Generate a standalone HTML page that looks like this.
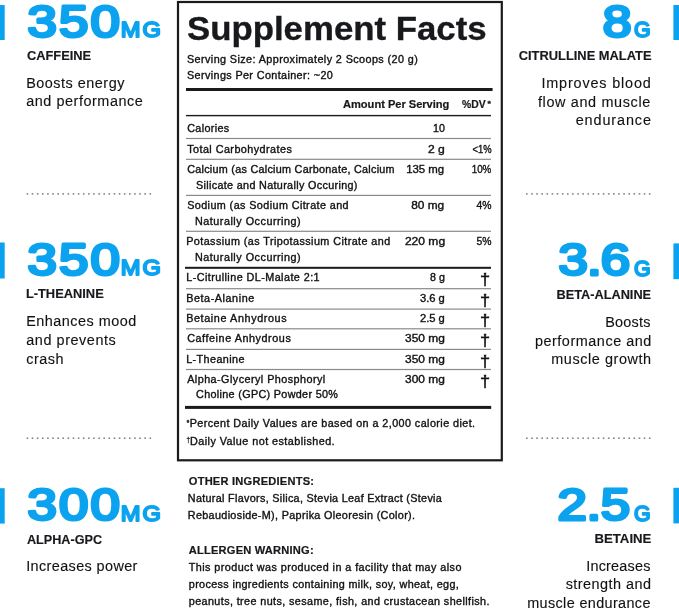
<!DOCTYPE html>
<html><head><meta charset="utf-8"><title>Supplement Facts</title>
<style>
html,body{margin:0;padding:0;background:#fff;}
body{width:679px;height:610px;overflow:hidden;}
svg{display:block;font-family:'Liberation Sans', Arial, sans-serif;}
</style></head><body>
<svg width="679" height="610" viewBox="0 0 679 610">
<rect x="0" y="5" width="4.7" height="35.0" fill="#0ba3ef"/>
<rect x="0" y="242.5" width="4.7" height="36.0" fill="#0ba3ef"/>
<rect x="0" y="488.2" width="4.7" height="35.4" fill="#0ba3ef"/>
<rect x="673.4" y="5" width="5.6" height="35.0" fill="#0ba3ef"/>
<rect x="673.4" y="243.4" width="5.6" height="35.8" fill="#0ba3ef"/>
<rect x="673.4" y="487.8" width="5.6" height="35.6" fill="#0ba3ef"/>
<rect x="26.60" y="193.10" width="1.6" height="1.6" fill="#858585"/>
<rect x="31.72" y="193.10" width="1.6" height="1.6" fill="#858585"/>
<rect x="36.84" y="193.10" width="1.6" height="1.6" fill="#858585"/>
<rect x="41.96" y="193.10" width="1.6" height="1.6" fill="#858585"/>
<rect x="47.08" y="193.10" width="1.6" height="1.6" fill="#858585"/>
<rect x="52.20" y="193.10" width="1.6" height="1.6" fill="#858585"/>
<rect x="57.32" y="193.10" width="1.6" height="1.6" fill="#858585"/>
<rect x="62.44" y="193.10" width="1.6" height="1.6" fill="#858585"/>
<rect x="67.56" y="193.10" width="1.6" height="1.6" fill="#858585"/>
<rect x="72.68" y="193.10" width="1.6" height="1.6" fill="#858585"/>
<rect x="77.80" y="193.10" width="1.6" height="1.6" fill="#858585"/>
<rect x="82.92" y="193.10" width="1.6" height="1.6" fill="#858585"/>
<rect x="88.04" y="193.10" width="1.6" height="1.6" fill="#858585"/>
<rect x="93.16" y="193.10" width="1.6" height="1.6" fill="#858585"/>
<rect x="98.28" y="193.10" width="1.6" height="1.6" fill="#858585"/>
<rect x="103.40" y="193.10" width="1.6" height="1.6" fill="#858585"/>
<rect x="108.52" y="193.10" width="1.6" height="1.6" fill="#858585"/>
<rect x="113.64" y="193.10" width="1.6" height="1.6" fill="#858585"/>
<rect x="118.76" y="193.10" width="1.6" height="1.6" fill="#858585"/>
<rect x="123.88" y="193.10" width="1.6" height="1.6" fill="#858585"/>
<rect x="129.00" y="193.10" width="1.6" height="1.6" fill="#858585"/>
<rect x="134.12" y="193.10" width="1.6" height="1.6" fill="#858585"/>
<rect x="139.24" y="193.10" width="1.6" height="1.6" fill="#858585"/>
<rect x="144.36" y="193.10" width="1.6" height="1.6" fill="#858585"/>
<rect x="149.48" y="193.10" width="1.6" height="1.6" fill="#858585"/>
<rect x="526.00" y="193.10" width="1.6" height="1.6" fill="#858585"/>
<rect x="531.12" y="193.10" width="1.6" height="1.6" fill="#858585"/>
<rect x="536.24" y="193.10" width="1.6" height="1.6" fill="#858585"/>
<rect x="541.36" y="193.10" width="1.6" height="1.6" fill="#858585"/>
<rect x="546.48" y="193.10" width="1.6" height="1.6" fill="#858585"/>
<rect x="551.60" y="193.10" width="1.6" height="1.6" fill="#858585"/>
<rect x="556.72" y="193.10" width="1.6" height="1.6" fill="#858585"/>
<rect x="561.84" y="193.10" width="1.6" height="1.6" fill="#858585"/>
<rect x="566.96" y="193.10" width="1.6" height="1.6" fill="#858585"/>
<rect x="572.08" y="193.10" width="1.6" height="1.6" fill="#858585"/>
<rect x="577.20" y="193.10" width="1.6" height="1.6" fill="#858585"/>
<rect x="582.32" y="193.10" width="1.6" height="1.6" fill="#858585"/>
<rect x="587.44" y="193.10" width="1.6" height="1.6" fill="#858585"/>
<rect x="592.56" y="193.10" width="1.6" height="1.6" fill="#858585"/>
<rect x="597.68" y="193.10" width="1.6" height="1.6" fill="#858585"/>
<rect x="602.80" y="193.10" width="1.6" height="1.6" fill="#858585"/>
<rect x="607.92" y="193.10" width="1.6" height="1.6" fill="#858585"/>
<rect x="613.04" y="193.10" width="1.6" height="1.6" fill="#858585"/>
<rect x="618.16" y="193.10" width="1.6" height="1.6" fill="#858585"/>
<rect x="623.28" y="193.10" width="1.6" height="1.6" fill="#858585"/>
<rect x="628.40" y="193.10" width="1.6" height="1.6" fill="#858585"/>
<rect x="633.52" y="193.10" width="1.6" height="1.6" fill="#858585"/>
<rect x="638.64" y="193.10" width="1.6" height="1.6" fill="#858585"/>
<rect x="643.76" y="193.10" width="1.6" height="1.6" fill="#858585"/>
<rect x="648.88" y="193.10" width="1.6" height="1.6" fill="#858585"/>
<rect x="26.60" y="437.40" width="1.6" height="1.6" fill="#858585"/>
<rect x="31.72" y="437.40" width="1.6" height="1.6" fill="#858585"/>
<rect x="36.84" y="437.40" width="1.6" height="1.6" fill="#858585"/>
<rect x="41.96" y="437.40" width="1.6" height="1.6" fill="#858585"/>
<rect x="47.08" y="437.40" width="1.6" height="1.6" fill="#858585"/>
<rect x="52.20" y="437.40" width="1.6" height="1.6" fill="#858585"/>
<rect x="57.32" y="437.40" width="1.6" height="1.6" fill="#858585"/>
<rect x="62.44" y="437.40" width="1.6" height="1.6" fill="#858585"/>
<rect x="67.56" y="437.40" width="1.6" height="1.6" fill="#858585"/>
<rect x="72.68" y="437.40" width="1.6" height="1.6" fill="#858585"/>
<rect x="77.80" y="437.40" width="1.6" height="1.6" fill="#858585"/>
<rect x="82.92" y="437.40" width="1.6" height="1.6" fill="#858585"/>
<rect x="88.04" y="437.40" width="1.6" height="1.6" fill="#858585"/>
<rect x="93.16" y="437.40" width="1.6" height="1.6" fill="#858585"/>
<rect x="98.28" y="437.40" width="1.6" height="1.6" fill="#858585"/>
<rect x="103.40" y="437.40" width="1.6" height="1.6" fill="#858585"/>
<rect x="108.52" y="437.40" width="1.6" height="1.6" fill="#858585"/>
<rect x="113.64" y="437.40" width="1.6" height="1.6" fill="#858585"/>
<rect x="118.76" y="437.40" width="1.6" height="1.6" fill="#858585"/>
<rect x="123.88" y="437.40" width="1.6" height="1.6" fill="#858585"/>
<rect x="129.00" y="437.40" width="1.6" height="1.6" fill="#858585"/>
<rect x="134.12" y="437.40" width="1.6" height="1.6" fill="#858585"/>
<rect x="139.24" y="437.40" width="1.6" height="1.6" fill="#858585"/>
<rect x="144.36" y="437.40" width="1.6" height="1.6" fill="#858585"/>
<rect x="149.48" y="437.40" width="1.6" height="1.6" fill="#858585"/>
<rect x="526.00" y="437.40" width="1.6" height="1.6" fill="#858585"/>
<rect x="531.12" y="437.40" width="1.6" height="1.6" fill="#858585"/>
<rect x="536.24" y="437.40" width="1.6" height="1.6" fill="#858585"/>
<rect x="541.36" y="437.40" width="1.6" height="1.6" fill="#858585"/>
<rect x="546.48" y="437.40" width="1.6" height="1.6" fill="#858585"/>
<rect x="551.60" y="437.40" width="1.6" height="1.6" fill="#858585"/>
<rect x="556.72" y="437.40" width="1.6" height="1.6" fill="#858585"/>
<rect x="561.84" y="437.40" width="1.6" height="1.6" fill="#858585"/>
<rect x="566.96" y="437.40" width="1.6" height="1.6" fill="#858585"/>
<rect x="572.08" y="437.40" width="1.6" height="1.6" fill="#858585"/>
<rect x="577.20" y="437.40" width="1.6" height="1.6" fill="#858585"/>
<rect x="582.32" y="437.40" width="1.6" height="1.6" fill="#858585"/>
<rect x="587.44" y="437.40" width="1.6" height="1.6" fill="#858585"/>
<rect x="592.56" y="437.40" width="1.6" height="1.6" fill="#858585"/>
<rect x="597.68" y="437.40" width="1.6" height="1.6" fill="#858585"/>
<rect x="602.80" y="437.40" width="1.6" height="1.6" fill="#858585"/>
<rect x="607.92" y="437.40" width="1.6" height="1.6" fill="#858585"/>
<rect x="613.04" y="437.40" width="1.6" height="1.6" fill="#858585"/>
<rect x="618.16" y="437.40" width="1.6" height="1.6" fill="#858585"/>
<rect x="623.28" y="437.40" width="1.6" height="1.6" fill="#858585"/>
<rect x="628.40" y="437.40" width="1.6" height="1.6" fill="#858585"/>
<rect x="633.52" y="437.40" width="1.6" height="1.6" fill="#858585"/>
<rect x="638.64" y="437.40" width="1.6" height="1.6" fill="#858585"/>
<rect x="643.76" y="437.40" width="1.6" height="1.6" fill="#858585"/>
<rect x="648.88" y="437.40" width="1.6" height="1.6" fill="#858585"/>
<rect x="178" y="2" width="323.8" height="458.3" fill="none" stroke="#1a1a1a" stroke-width="2.2"/>
<rect x="186" y="88" width="306.6" height="3" fill="#1a1a1a"/>
<rect x="186" y="114.9" width="305" height="1.4" fill="#1a1a1a"/>
<rect x="186" y="137.9" width="305" height="1.2" fill="#8a8a8a"/>
<rect x="186" y="158.7" width="305" height="1.2" fill="#8a8a8a"/>
<rect x="186" y="194.8" width="305" height="1.2" fill="#8a8a8a"/>
<rect x="186" y="230.7" width="305" height="1.2" fill="#8a8a8a"/>
<rect x="186" y="288.1" width="305" height="1.2" fill="#8a8a8a"/>
<rect x="186" y="308.5" width="305" height="1.2" fill="#8a8a8a"/>
<rect x="186" y="328.2" width="305" height="1.2" fill="#8a8a8a"/>
<rect x="186" y="348.8" width="305" height="1.2" fill="#8a8a8a"/>
<rect x="186" y="368.9" width="305" height="1.2" fill="#8a8a8a"/>
<rect x="185" y="266.8" width="306" height="2" fill="#1a1a1a"/>
<rect x="185" y="405.9" width="306.2" height="3.0" fill="#1a1a1a"/>
<text transform="scale(1.2 1)" x="23.00" y="37" font-weight="400" font-size="44.0" fill="#0ba3ef" stroke="#0ba3ef" stroke-width="3.1" stroke-linejoin="round" textLength="76.83" lengthAdjust="spacing">350</text>
<text transform="scale(1.1 1)" x="109.82" y="37" font-weight="400" font-size="21.5" fill="#0ba3ef" stroke="#0ba3ef" stroke-width="1.9" stroke-linejoin="round" textLength="36.46" lengthAdjust="spacing">MG</text>
<text x="26.90" y="60" font-weight="700" font-size="12.5" fill="#18191c" stroke="#18191c" stroke-width="0.15" textLength="64.21" lengthAdjust="spacingAndGlyphs">CAFFEINE</text>
<text transform="scale(1.03 1)" x="25.44" y="88" font-weight="400" font-size="14" fill="#121212" stroke="#121212" stroke-width="0.12" textLength="95.36" lengthAdjust="spacing">Boosts energy</text>
<text transform="scale(1.03 1)" x="25.44" y="106" font-weight="400" font-size="14" fill="#121212" stroke="#121212" stroke-width="0.12" textLength="113.23" lengthAdjust="spacing">and performance</text>
<text transform="scale(1.2 1)" x="23.00" y="275" font-weight="400" font-size="44.0" fill="#0ba3ef" stroke="#0ba3ef" stroke-width="3.1" stroke-linejoin="round" textLength="76.83" lengthAdjust="spacing">350</text>
<text transform="scale(1.1 1)" x="109.82" y="275" font-weight="400" font-size="21.5" fill="#0ba3ef" stroke="#0ba3ef" stroke-width="1.9" stroke-linejoin="round" textLength="36.46" lengthAdjust="spacing">MG</text>
<text x="25.90" y="298" font-weight="700" font-size="12.5" fill="#18191c" stroke="#18191c" stroke-width="0.15" textLength="77.83" lengthAdjust="spacingAndGlyphs">L-THEANINE</text>
<text transform="scale(1.03 1)" x="25.44" y="326" font-weight="400" font-size="14" fill="#121212" stroke="#121212" stroke-width="0.12" textLength="106.83" lengthAdjust="spacing">Enhances mood</text>
<text transform="scale(1.03 1)" x="25.44" y="345" font-weight="400" font-size="14" fill="#121212" stroke="#121212" stroke-width="0.12" textLength="87.02" lengthAdjust="spacing">and prevents</text>
<text transform="scale(1.03 1)" x="25.44" y="364" font-weight="400" font-size="14" fill="#121212" stroke="#121212" stroke-width="0.12" textLength="36.19" lengthAdjust="spacing">crash</text>
<text transform="scale(1.2 1)" x="23.00" y="520" font-weight="400" font-size="44.0" fill="#0ba3ef" stroke="#0ba3ef" stroke-width="3.1" stroke-linejoin="round" textLength="76.83" lengthAdjust="spacing">300</text>
<text transform="scale(1.1 1)" x="109.82" y="521" font-weight="400" font-size="21.5" fill="#0ba3ef" stroke="#0ba3ef" stroke-width="1.9" stroke-linejoin="round" textLength="36.46" lengthAdjust="spacing">MG</text>
<text x="26.90" y="544" font-weight="700" font-size="12.5" fill="#18191c" stroke="#18191c" stroke-width="0.15" textLength="75.21" lengthAdjust="spacingAndGlyphs">ALPHA-GPC</text>
<text transform="scale(1.03 1)" x="25.44" y="571" font-weight="400" font-size="14" fill="#121212" stroke="#121212" stroke-width="0.12" textLength="107.97" lengthAdjust="spacing">Increases power</text>
<text x="602.80" y="37" font-weight="400" font-size="44.0" fill="#0ba3ef" stroke="#0ba3ef" stroke-width="3.1" stroke-linejoin="round" textLength="28.81" lengthAdjust="spacingAndGlyphs">8</text>
<text x="634.00" y="37" font-weight="400" font-size="21.5" fill="#0ba3ef" stroke="#0ba3ef" stroke-width="1.9" stroke-linejoin="round" textLength="16.62" lengthAdjust="spacingAndGlyphs">G</text>
<text x="518.70" y="60" font-weight="700" font-size="12.5" fill="#18191c" stroke="#18191c" stroke-width="0.15" textLength="132.80" lengthAdjust="spacingAndGlyphs">CITRULLINE MALATE</text>
<text transform="scale(1.03 1)" x="525.63" y="88" font-weight="400" font-size="14" fill="#121212" stroke="#121212" stroke-width="0.12" textLength="106.24" lengthAdjust="spacing">Improves blood</text>
<text transform="scale(1.03 1)" x="522.23" y="107" font-weight="400" font-size="14" fill="#121212" stroke="#121212" stroke-width="0.12" textLength="109.14" lengthAdjust="spacing">flow and muscle</text>
<text transform="scale(1.03 1)" x="558.93" y="125" font-weight="400" font-size="14" fill="#121212" stroke="#121212" stroke-width="0.12" textLength="73.05" lengthAdjust="spacing">endurance</text>
<text transform="scale(1.2 1)" x="465.50" y="275" font-weight="400" font-size="44.0" fill="#0ba3ef" stroke="#0ba3ef" stroke-width="3.1" stroke-linejoin="round" textLength="59.68" lengthAdjust="spacing">3.6</text>
<text x="634.00" y="276" font-weight="400" font-size="21.5" fill="#0ba3ef" stroke="#0ba3ef" stroke-width="1.9" stroke-linejoin="round" textLength="16.62" lengthAdjust="spacingAndGlyphs">G</text>
<text x="556.50" y="299" font-weight="700" font-size="12.5" fill="#18191c" stroke="#18191c" stroke-width="0.15" textLength="94.62" lengthAdjust="spacingAndGlyphs">BETA-ALANINE</text>
<text transform="scale(1.03 1)" x="587.57" y="327" font-weight="400" font-size="14" fill="#121212" stroke="#121212" stroke-width="0.12" textLength="43.94" lengthAdjust="spacing">Boosts</text>
<text transform="scale(1.03 1)" x="519.32" y="346" font-weight="400" font-size="14" fill="#121212" stroke="#121212" stroke-width="0.12" textLength="113.05" lengthAdjust="spacing">performance and</text>
<text transform="scale(1.03 1)" x="535.24" y="364" font-weight="400" font-size="14" fill="#121212" stroke="#121212" stroke-width="0.12" textLength="96.93" lengthAdjust="spacing">muscle growth</text>
<text transform="scale(1.2 1)" x="464.67" y="520" font-weight="400" font-size="44.0" fill="#0ba3ef" stroke="#0ba3ef" stroke-width="3.1" stroke-linejoin="round" textLength="60.52" lengthAdjust="spacing">2.5</text>
<text x="634.00" y="521" font-weight="400" font-size="21.5" fill="#0ba3ef" stroke="#0ba3ef" stroke-width="1.9" stroke-linejoin="round" textLength="16.62" lengthAdjust="spacingAndGlyphs">G</text>
<text x="594.40" y="543" font-weight="700" font-size="12.5" fill="#18191c" stroke="#18191c" stroke-width="0.15" textLength="57.05" lengthAdjust="spacingAndGlyphs">BETAINE</text>
<text transform="scale(1.03 1)" x="569.13" y="571" font-weight="400" font-size="14" fill="#121212" stroke="#121212" stroke-width="0.12" textLength="62.37" lengthAdjust="spacing">Increases</text>
<text transform="scale(1.03 1)" x="549.22" y="589" font-weight="400" font-size="14" fill="#121212" stroke="#121212" stroke-width="0.12" textLength="82.74" lengthAdjust="spacing">strength and</text>
<text transform="scale(1.03 1)" x="511.84" y="608" font-weight="400" font-size="14" fill="#121212" stroke="#121212" stroke-width="0.12" textLength="119.63" lengthAdjust="spacing">muscle endurance</text>
<text x="187.00" y="40" font-weight="700" font-size="34" fill="#18191c" stroke="#18191c" stroke-width="0.35" textLength="299.62" lengthAdjust="spacingAndGlyphs">Supplement Facts</text>
<text transform="scale(1.08 1)" x="173.15" y="63" font-weight="400" font-size="10.0" fill="#121212" stroke="#121212" stroke-width="0.35" textLength="213.70" lengthAdjust="spacing">Serving Size: Approximately 2 Scoops (20 g)</text>
<text transform="scale(1.08 1)" x="173.15" y="79" font-weight="400" font-size="10.0" fill="#121212" stroke="#121212" stroke-width="0.35" textLength="135.00" lengthAdjust="spacing">Servings Per Container: ~20</text>
<text transform="scale(1.08 1)" x="317.59" y="108" font-weight="700" font-size="10.3" fill="#18191c" stroke="#18191c" stroke-width="0.2" textLength="98.53" lengthAdjust="spacing">Amount Per Serving</text>
<text x="462.10" y="108" font-weight="700" font-size="10.3" fill="#18191c" stroke="#18191c" stroke-width="0.2" textLength="23.60" lengthAdjust="spacingAndGlyphs">%DV</text>
<text x="487.40" y="106" font-weight="700" font-size="7.0" fill="#18191c" stroke="#18191c" stroke-width="0.3" textLength="3.41" lengthAdjust="spacingAndGlyphs">*</text>
<text transform="scale(1.08 1)" x="173.33" y="132" font-weight="400" font-size="10.0" fill="#121212" stroke="#121212" stroke-width="0.35" textLength="38.89" lengthAdjust="spacing">Calories</text>
<text x="433.00" y="132" font-weight="400" font-size="10.0" fill="#121212" stroke="#121212" stroke-width="0.35" textLength="11.82" lengthAdjust="spacingAndGlyphs">10</text>
<text transform="scale(1.08 1)" x="173.33" y="153" font-weight="400" font-size="10.0" fill="#121212" stroke="#121212" stroke-width="0.35" textLength="96.85" lengthAdjust="spacing">Total Carbohydrates</text>
<text x="428.00" y="153" font-weight="400" font-size="10.0" fill="#121212" stroke="#121212" stroke-width="0.35" textLength="16.82" lengthAdjust="spacingAndGlyphs">2 g</text>
<text x="472.60" y="153" font-weight="400" font-size="10.0" fill="#121212" stroke="#121212" stroke-width="0.35" textLength="19.00" lengthAdjust="spacingAndGlyphs">&lt;1%</text>
<text transform="scale(1.08 1)" x="173.33" y="173" font-weight="400" font-size="10.0" fill="#121212" stroke="#121212" stroke-width="0.35" textLength="192.04" lengthAdjust="spacing">Calcium (as Calcium Carbonate, Calcium</text>
<text x="406.20" y="173" font-weight="400" font-size="10.0" fill="#121212" stroke="#121212" stroke-width="0.35" textLength="38.03" lengthAdjust="spacingAndGlyphs">135 mg</text>
<text x="471.70" y="173" font-weight="400" font-size="10.0" fill="#121212" stroke="#121212" stroke-width="0.35" textLength="19.60" lengthAdjust="spacingAndGlyphs">10%</text>
<text transform="scale(1.08 1)" x="173.33" y="209" font-weight="400" font-size="10.0" fill="#121212" stroke="#121212" stroke-width="0.35" textLength="149.44" lengthAdjust="spacing">Sodium (as Sodium Citrate and</text>
<text x="411.20" y="209" font-weight="400" font-size="10.0" fill="#121212" stroke="#121212" stroke-width="0.35" textLength="33.00" lengthAdjust="spacingAndGlyphs">80 mg</text>
<text x="476.60" y="209" font-weight="400" font-size="10.0" fill="#121212" stroke="#121212" stroke-width="0.35" textLength="15.00" lengthAdjust="spacingAndGlyphs">4%</text>
<text transform="scale(1.08 1)" x="172.41" y="245" font-weight="400" font-size="10.0" fill="#121212" stroke="#121212" stroke-width="0.35" textLength="188.89" lengthAdjust="spacing">Potassium (as Tripotassium Citrate and</text>
<text x="404.90" y="245" font-weight="400" font-size="10.0" fill="#121212" stroke="#121212" stroke-width="0.35" textLength="40.21" lengthAdjust="spacingAndGlyphs">220 mg</text>
<text x="476.60" y="245" font-weight="400" font-size="10.0" fill="#121212" stroke="#121212" stroke-width="0.35" textLength="15.00" lengthAdjust="spacingAndGlyphs">5%</text>
<text transform="scale(1.08 1)" x="172.41" y="281" font-weight="400" font-size="10.0" fill="#121212" stroke="#121212" stroke-width="0.35" textLength="123.53" lengthAdjust="spacing">L-Citrulline DL-Malate 2:1</text>
<text x="430.00" y="281" font-weight="400" font-size="10.0" fill="#121212" stroke="#121212" stroke-width="0.35" textLength="14.82" lengthAdjust="spacingAndGlyphs">8 g</text>
<text transform="scale(1.08 1)" x="172.41" y="302" font-weight="400" font-size="10.0" fill="#121212" stroke="#121212" stroke-width="0.35" textLength="62.98" lengthAdjust="spacing">Beta-Alanine</text>
<text x="420.00" y="302" font-weight="400" font-size="10.0" fill="#121212" stroke="#121212" stroke-width="0.35" textLength="24.81" lengthAdjust="spacingAndGlyphs">3.6 g</text>
<text transform="scale(1.08 1)" x="172.41" y="322" font-weight="400" font-size="10.0" fill="#121212" stroke="#121212" stroke-width="0.35" textLength="92.97" lengthAdjust="spacing">Betaine Anhydrous</text>
<text x="420.00" y="322" font-weight="400" font-size="10.0" fill="#121212" stroke="#121212" stroke-width="0.35" textLength="24.81" lengthAdjust="spacingAndGlyphs">2.5 g</text>
<text transform="scale(1.08 1)" x="173.33" y="342" font-weight="400" font-size="10.0" fill="#121212" stroke="#121212" stroke-width="0.35" textLength="95.93" lengthAdjust="spacing">Caffeine Anhydrous</text>
<text x="405.00" y="342" font-weight="400" font-size="10.0" fill="#121212" stroke="#121212" stroke-width="0.35" textLength="39.81" lengthAdjust="spacingAndGlyphs">350 mg</text>
<text transform="scale(1.08 1)" x="172.41" y="363" font-weight="400" font-size="10.0" fill="#121212" stroke="#121212" stroke-width="0.35" textLength="53.92" lengthAdjust="spacing">L-Theanine</text>
<text x="405.00" y="363" font-weight="400" font-size="10.0" fill="#121212" stroke="#121212" stroke-width="0.35" textLength="39.81" lengthAdjust="spacingAndGlyphs">350 mg</text>
<text transform="scale(1.08 1)" x="173.33" y="383" font-weight="400" font-size="10.0" fill="#121212" stroke="#121212" stroke-width="0.35" textLength="127.78" lengthAdjust="spacing">Alpha-Glyceryl Phosphoryl</text>
<text x="405.00" y="383" font-weight="400" font-size="10.0" fill="#121212" stroke="#121212" stroke-width="0.35" textLength="39.81" lengthAdjust="spacingAndGlyphs">300 mg</text>
<text transform="scale(1.08 1)" x="181.48" y="189" font-weight="400" font-size="10.0" fill="#121212" stroke="#121212" stroke-width="0.35" textLength="149.44" lengthAdjust="spacing">Silicate and Naturally Occuring)</text>
<text transform="scale(1.08 1)" x="180.56" y="225" font-weight="400" font-size="10.0" fill="#121212" stroke="#121212" stroke-width="0.35" textLength="97.80" lengthAdjust="spacing">Naturally Occurring)</text>
<text transform="scale(1.08 1)" x="180.56" y="261" font-weight="400" font-size="10.0" fill="#121212" stroke="#121212" stroke-width="0.35" textLength="97.80" lengthAdjust="spacing">Naturally Occurring)</text>
<text transform="scale(1.08 1)" x="181.57" y="398" font-weight="400" font-size="10.0" fill="#121212" stroke="#121212" stroke-width="0.35" textLength="131.30" lengthAdjust="spacing">Choline (GPC) Powder 50%</text>
<text x="186.70" y="425" font-weight="700" font-size="7.5" fill="#121212" stroke="#121212" stroke-width="0.4" textLength="2.43" lengthAdjust="spacingAndGlyphs">*</text>
<text x="186.40" y="442" font-weight="400" font-size="7.8" fill="#121212" stroke="#121212" stroke-width="0.3" textLength="3.50" lengthAdjust="spacingAndGlyphs">†</text>
<text transform="scale(1.08 1)" x="175.65" y="427" font-weight="400" font-size="10.0" fill="#121212" stroke="#121212" stroke-width="0.35" textLength="264.27" lengthAdjust="spacing">Percent Daily Values are based on a 2,000 calorie diet.</text>
<text transform="scale(1.08 1)" x="175.93" y="445" font-weight="400" font-size="10.0" fill="#121212" stroke="#121212" stroke-width="0.35" textLength="133.90" lengthAdjust="spacing">Daily Value not established.</text>
<text transform="scale(1.08 1)" x="174.81" y="485" font-weight="700" font-size="10.3" fill="#18191c" stroke="#18191c" stroke-width="0.2" textLength="115.93" lengthAdjust="spacing">OTHER INGREDIENTS:</text>
<text transform="scale(1.08 1)" x="173.89" y="502" font-weight="400" font-size="10.0" fill="#121212" stroke="#121212" stroke-width="0.35" textLength="235.19" lengthAdjust="spacing">Natural Flavors, Silica, Stevia Leaf Extract (Stevia</text>
<text transform="scale(1.08 1)" x="173.89" y="519" font-weight="400" font-size="10.0" fill="#121212" stroke="#121212" stroke-width="0.35" textLength="210.38" lengthAdjust="spacing">Rebaudioside-M), Paprika Oleoresin (Color).</text>
<text transform="scale(1.08 1)" x="174.81" y="554" font-weight="700" font-size="10.3" fill="#18191c" stroke="#18191c" stroke-width="0.2" textLength="115.56" lengthAdjust="spacing">ALLERGEN WARNING:</text>
<text transform="scale(1.08 1)" x="174.81" y="571" font-weight="400" font-size="10.0" fill="#121212" stroke="#121212" stroke-width="0.35" textLength="252.41" lengthAdjust="spacing">This product was produced in a facility that may also</text>
<text transform="scale(1.08 1)" x="174.81" y="588" font-weight="400" font-size="10.0" fill="#121212" stroke="#121212" stroke-width="0.35" textLength="250.00" lengthAdjust="spacing">process ingredients containing milk, soy, wheat, egg,</text>
<text transform="scale(1.08 1)" x="174.81" y="605" font-weight="400" font-size="10.0" fill="#121212" stroke="#121212" stroke-width="0.35" textLength="278.33" lengthAdjust="spacing">peanuts, tree nuts, sesame, fish, and crustacean shellfish.</text>
<text x="479.90" y="285" font-weight="400" font-size="16.5" fill="#121212" stroke="#121212" stroke-width="0.5" textLength="10.10" lengthAdjust="spacingAndGlyphs">†</text>
<text x="479.90" y="306" font-weight="400" font-size="16.5" fill="#121212" stroke="#121212" stroke-width="0.5" textLength="10.10" lengthAdjust="spacingAndGlyphs">†</text>
<text x="479.90" y="326" font-weight="400" font-size="16.5" fill="#121212" stroke="#121212" stroke-width="0.5" textLength="10.10" lengthAdjust="spacingAndGlyphs">†</text>
<text x="479.90" y="346" font-weight="400" font-size="16.5" fill="#121212" stroke="#121212" stroke-width="0.5" textLength="10.10" lengthAdjust="spacingAndGlyphs">†</text>
<text x="479.90" y="367" font-weight="400" font-size="16.5" fill="#121212" stroke="#121212" stroke-width="0.5" textLength="10.10" lengthAdjust="spacingAndGlyphs">†</text>
<text x="479.90" y="387" font-weight="400" font-size="16.5" fill="#121212" stroke="#121212" stroke-width="0.5" textLength="10.10" lengthAdjust="spacingAndGlyphs">†</text>
</svg>
</body></html>
